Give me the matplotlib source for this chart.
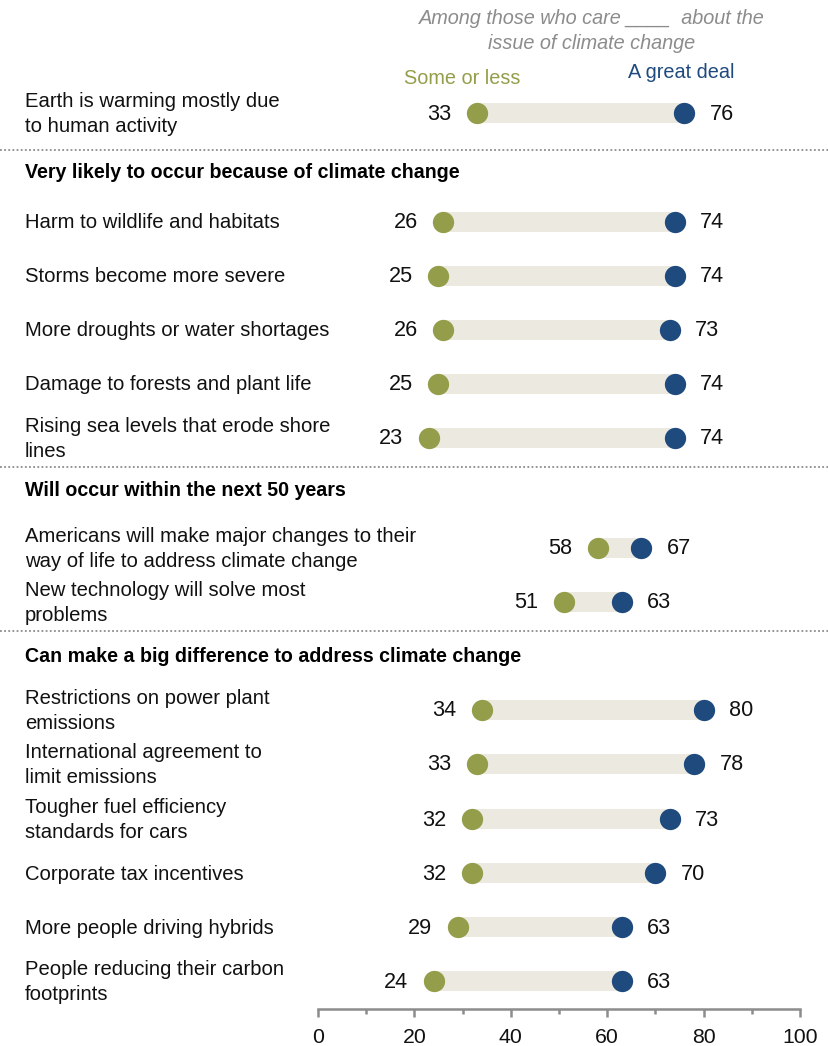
import matplotlib
matplotlib.use("Agg")
import matplotlib.pyplot as plt
from matplotlib import font_manager

# ---------------- data ----------------
labels = [
    "Earth is warming mostly due\nto human activity",
    "Harm to wildlife and habitats",
    "Storms become more severe",
    "More droughts or water shortages",
    "Damage to forests and plant life",
    "Rising sea levels that erode shore\nlines",
    "Americans will make major changes to their\nway of life to address climate change",
    "New technology will solve most\nproblems",
    "Restrictions on power plant\nemissions",
    "International agreement to\nlimit emissions",
    "Tougher fuel efficiency\nstandards for cars",
    "Corporate tax incentives",
    "More people driving hybrids",
    "People reducing their carbon\nfootprints",
]
some_or_less = [33, 26, 25, 26, 25, 23, 58, 51, 34, 33, 32, 32, 29, 24]
great_deal = [76, 74, 74, 73, 74, 74, 67, 63, 80, 78, 73, 70, 63, 63]
headings = [
    "Very likely to occur because of climate change",
    "Will occur within the next 50 years",
    "Can make a big difference to address climate change",
]
x_ticks = [0, 20, 40, 60, 80, 100]

# layout (pixel rows)
row_y = [113, 222, 276, 330, 384, 438, 548, 602, 710, 764, 819, 873, 927, 981]
heading_y = [171, 489, 655]
sep_y = [150, 467, 631]

GREEN = "#949E4A"
BLUE = "#1F4A7E"
BAR = "#ECE9E1"
GRAY = "#8C8C8C"

avail = {f.name for f in font_manager.fontManager.ttflist}
narrow = [f for f in ["Liberation Sans Narrow", "Liberation Sans"] if f in avail] + ["DejaVu Sans"]
regular = [f for f in ["Liberation Sans"] if f in avail] + ["DejaVu Sans"]
plt.rcParams["font.family"] = narrow

W, H = 829, 1046
fig = plt.figure(figsize=(W / 100, H / 100), dpi=100)
ax = fig.add_axes([0, 0, 1, 1])
x0, x100 = 318, 800
ppu = (x100 - x0) / 100.0
ax.set_xlim(-x0 / ppu, (W - x0) / ppu)
ax.set_ylim(H, 0)
ax.axis("off")

def px2x(px):
    return (px - x0) / ppu

FS = 14.6
NUM_FS = 15.6

ys = row_y
lo = some_or_less
hi = great_deal
ax.barh(ys, [h - l for l, h in zip(lo, hi)], left=lo, height=20, color=BAR, zorder=1)
ax.scatter(lo, ys, s=235, color=GREEN, zorder=3, linewidths=0)
ax.scatter(hi, ys, s=235, color=BLUE, zorder=3, linewidths=0)

off = 25.5 / ppu
for y, l, h, lab in zip(ys, lo, hi, labels):
    ax.text(l - off, y + 1, f"{l}", ha="right", va="center", fontsize=NUM_FS, color="#111111",
            family=regular)
    ax.text(h + off, y + 1, f"{h}", ha="left", va="center", fontsize=NUM_FS, color="#111111",
            family=regular)
    ax.text(px2x(25), y + 1, lab, ha="left", va="center", fontsize=FS, color="#111111",
            linespacing=1.42)

for y, t in zip(heading_y, headings):
    ax.text(px2x(25), y + 1, t, ha="left", va="center", fontsize=14.1, fontweight="bold",
            color="#000000")

for y in sep_y:
    ax.plot([px2x(0), px2x(W)], [y, y], color="#8C8C8C", lw=1.3, ls=(0, (1, 1.3)), zorder=0)

# header
ax.text(px2x(592), 31, "Among those who care ____  about the\nissue of climate change",
        ha="center", va="center", fontsize=14.3, style="italic", color=GRAY, linespacing=1.42)
ax.text(px2x(462), 78, "Some or less", ha="center", va="center", fontsize=14.3, color=GREEN)
ax.text(px2x(681), 73, "A great deal", ha="center", va="center", fontsize=14.3, color=BLUE)

# x axis
ax2 = fig.add_axes([x0 / W, 1 - 1009 / H, (x100 - x0) / W, 0.0001])
ax2.set_xlim(0, 100)
ax2.set_ylim(0, 1)
ax2.patch.set_alpha(0)
for s in ["top", "left", "right"]:
    ax2.spines[s].set_visible(False)
ax2.spines["bottom"].set_color("#8C8C8C")
ax2.spines["bottom"].set_linewidth(1.8)
ax2.set_yticks([])
ax2.set_xticks(x_ticks)
ax2.set_xticks(list(range(10, 100, 20)), minor=True)
ax2.tick_params(axis="x", which="major", direction="out", length=5.5, width=1.8,
                color="#8C8C8C", labelsize=15.3, pad=8, labelcolor="#111111")
ax2.tick_params(axis="x", which="minor", direction="out", length=3.8, width=1.8,
                color="#8C8C8C")
for t in ax2.get_xticklabels():
    t.set_family(regular)

fig.savefig("out.png", dpi=100)
